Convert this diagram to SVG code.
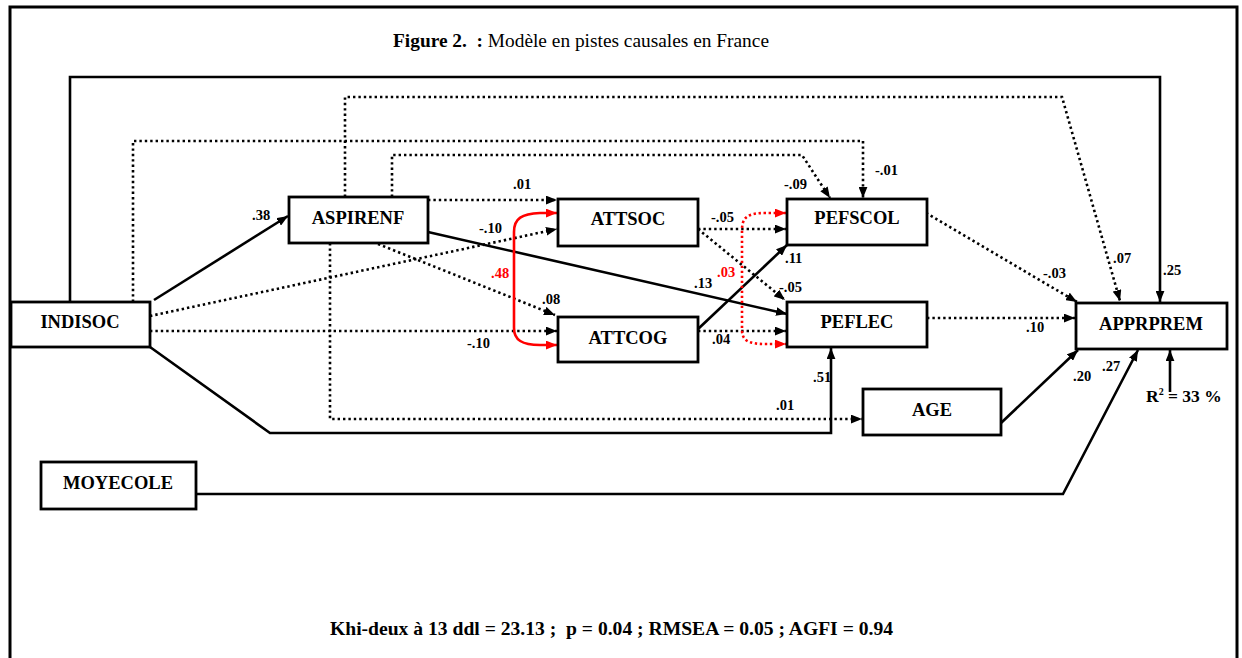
<svg xmlns="http://www.w3.org/2000/svg" width="1242" height="658" viewBox="0 0 1242 658">
<style>
  .box { fill: #ffffff; stroke: #000000; stroke-width: 2.8; }
  .node { font-family: "Liberation Serif", "Times New Roman", serif; font-weight: bold; font-size: 18.5px; fill: #000000; text-anchor: middle; }
  .lbl { font-family: "Liberation Serif", "Times New Roman", serif; font-weight: bold; font-size: 14.5px; fill: #000000; }
  .red { fill: #ff0000; }
  .r2 { font-size: 17.5px; }
  .solid { fill: none; stroke: #000000; stroke-width: 2.6; }
  .dot { fill: none; stroke: #000000; stroke-width: 2.6; stroke-dasharray: 2.4 3; }
  .rsolid { fill: none; stroke: #ff0000; stroke-width: 2.6; }
  .rdot { fill: none; stroke: #ff0000; stroke-width: 2.6; stroke-dasharray: 2.4 2.6; }
  .title { font-family: "Liberation Serif", "Times New Roman", serif; font-size: 19px; fill: #000000; }
  .foot { font-family: "Liberation Serif", "Times New Roman", serif; font-weight: bold; font-size: 19.5px; fill: #000000; }
</style>
<defs>
  <marker id="ah" viewBox="0 0 10 8" refX="10" refY="4" markerWidth="11" markerHeight="9" markerUnits="userSpaceOnUse" orient="auto">
    <path d="M0,0 L10,4 L0,8 z" fill="#000000"/>
  </marker>
  <marker id="ahr" viewBox="0 0 10 8" refX="10" refY="4" markerWidth="11" markerHeight="9" markerUnits="userSpaceOnUse" orient="auto-start-reverse">
    <path d="M0,0 L10,4 L0,8 z" fill="#ff0000"/>
  </marker>
</defs>
<rect x="0" y="0" width="1242" height="658" fill="#ffffff"/>
<rect x="10" y="7" width="1227" height="670" fill="none" stroke="#000000" stroke-width="3"/>
<text class="title" x="393" y="47" textLength="376" lengthAdjust="spacingAndGlyphs"><tspan font-weight="bold">Figure 2.&#160; :</tspan> Modèle en pistes causales en France</text>

<g id="connectors">
  <path class="solid" d="M70,302 V77 H1160 V302" marker-end="url(#ah)"/>
  <path class="dot" d="M345,197 V97 H1062 L1120,301" marker-end="url(#ah)"/>
  <path class="dot" d="M133,302 V141 H863 V198" marker-end="url(#ah)"/>
  <path class="dot" d="M392,197 V155 H802 L830,198" marker-end="url(#ah)"/>
  <path class="solid" d="M154,300 L288,216" marker-end="url(#ah)"/>
  <path class="dot" d="M428,200 H557" marker-end="url(#ah)"/>
  <path class="dot" d="M150,316 L557,229" marker-end="url(#ah)"/>
  <path class="dot" d="M378,244 L555,315" marker-end="url(#ah)"/>
  <path class="dot" d="M150,331 H557" marker-end="url(#ah)"/>
  <path class="solid" d="M428,232 L787,314" marker-end="url(#ah)"/>
  <path class="dot" d="M698,229 H786" marker-end="url(#ah)"/>
  <path class="dot" d="M698,229 L785,300" marker-end="url(#ah)"/>
  <path class="solid" d="M697,330 L787,245" marker-end="url(#ah)"/>
  <path class="dot" d="M698,331 H786" marker-end="url(#ah)"/>
  <path class="dot" d="M926,213 L1077,302" marker-end="url(#ah)"/>
  <path class="dot" d="M927,318 H1075" marker-end="url(#ah)"/>
  <path class="solid" d="M150,347 L270,433 H831 V348" marker-end="url(#ah)"/>
  <path class="dot" d="M330,243 V419 H862" marker-end="url(#ah)"/>
  <path class="solid" d="M1001,423 L1078,350" marker-end="url(#ah)"/>
  <path class="solid" d="M196,494 H1063 L1138,350" marker-end="url(#ah)"/>
  <path class="solid" d="M1170,392 V350" marker-end="url(#ah)"/>
  <path class="rsolid" d="M557,213 L540,213 C522,214 514,218 514,232 V328 C514,340 522,345 540,345 L557,345" marker-start="url(#ahr)" marker-end="url(#ahr)"/>
  <path class="rdot" d="M786,213 L765,213 C748,213 742,217 742,230 V330 C742,340 748,344 765,344 L786,344" marker-start="url(#ahr)" marker-end="url(#ahr)"/>
</g>

<g id="labels">
  <text class="lbl" x="252" y="220">.38</text>
  <text class="lbl" x="513" y="189">.01</text>
  <text class="lbl" x="479" y="233">-.10</text>
  <text class="lbl red" x="491" y="278">.48</text>
  <text class="lbl" x="542" y="304">.08</text>
  <text class="lbl" x="467" y="348">-.10</text>
  <text class="lbl" x="711" y="222">-.05</text>
  <text class="lbl red" x="717" y="277">.03</text>
  <text class="lbl" x="694" y="288">.13</text>
  <text class="lbl" x="785" y="263">.11</text>
  <text class="lbl" x="779" y="292">-.05</text>
  <text class="lbl" x="712" y="344">.04</text>
  <text class="lbl" x="784" y="189">-.09</text>
  <text class="lbl" x="875" y="175">-.01</text>
  <text class="lbl" x="1113" y="263">.07</text>
  <text class="lbl" x="1163" y="275">.25</text>
  <text class="lbl" x="1043" y="278">-.03</text>
  <text class="lbl" x="1026" y="332">.10</text>
  <text class="lbl" x="813" y="382">.51</text>
  <text class="lbl" x="776" y="410">.01</text>
  <text class="lbl" x="1073" y="381">.20</text>
  <text class="lbl" x="1102" y="371">.27</text>
  <text class="lbl r2" x="1146" y="402">R<tspan font-size="10" dy="-7">2</tspan><tspan dy="7"> = 33 %</tspan></text>
</g>

<g id="INDISOC"><rect class="box" x="11" y="302" width="139" height="45"/><text class="node" x="80" y="328">INDISOC</text></g>
<g id="MOYECOLE"><rect class="box" x="41" y="462" width="155" height="47"/><text class="node" x="118" y="489">MOYECOLE</text></g>
<g id="ASPIRENF"><rect class="box" x="289" y="197" width="139" height="46"/><text class="node" x="358" y="224">ASPIRENF</text></g>
<g id="ATTSOC"><rect class="box" x="558" y="199" width="140" height="47"/><text class="node" x="628" y="225">ATTSOC</text></g>
<g id="ATTCOG"><rect class="box" x="558" y="317" width="140" height="45"/><text class="node" x="628" y="344">ATTCOG</text></g>
<g id="PEFSCOL"><rect class="box" x="787" y="199" width="140" height="46"/><text class="node" x="857" y="224">PEFSCOL</text></g>
<g id="PEFLEC"><rect class="box" x="787" y="302" width="140" height="45"/><text class="node" x="857" y="328">PEFLEC</text></g>
<g id="AGE"><rect class="box" x="863" y="389" width="138" height="46"/><text class="node" x="932" y="416">AGE</text></g>
<g id="APPRPREM"><rect class="box" x="1076" y="303" width="151" height="46"/><text class="node" x="1151" y="330">APPRPREM</text></g>

<text class="foot" x="330" y="635" textLength="563" lengthAdjust="spacingAndGlyphs">Khi-deux à 13 ddl = 23.13 ;&#160; p = 0.04 ; RMSEA = 0.05 ; AGFI = 0.94</text>
</svg>
